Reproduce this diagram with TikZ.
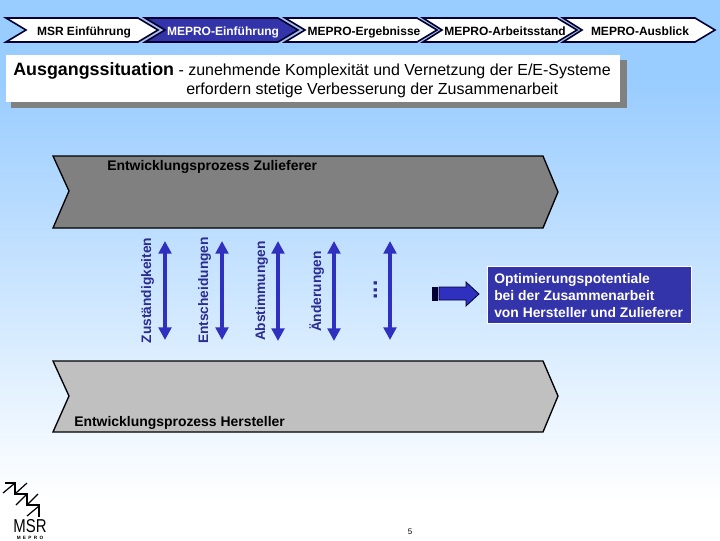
\documentclass[tikz,border=0pt]{standalone}
\usepackage{fontspec}
\setmainfont{Liberation Sans}
\usetikzlibrary{arrows.meta}

\definecolor{himmel}{RGB}{153,204,255}
\definecolor{tiefblau}{RGB}{51,51,170}
\definecolor{pfeilblau}{RGB}{48,48,192}
\definecolor{randblau}{RGB}{0,0,51}
\definecolor{spalt}{RGB}{170,190,228}
\definecolor{dunkelgrau}{RGB}{128,128,128}
\definecolor{hellgrau}{RGB}{192,192,192}

\tikzset{
  reiter/.style={draw=randblau,line width=1.2pt,miter limit=10,fill=white},
  reiteraktiv/.style={reiter,fill=tiefblau},
  spaltstreifen/.style={fill=spalt},
  prozess/.style={draw=black,line width=1pt},
  reitertext/.style={anchor=base,inner sep=0.75pt,font=\fontsize{9}{11}\selectfont\bfseries},
  prozesstext/.style={anchor=base west,inner sep=0.75pt,font=\fontsize{10.45}{12}\selectfont\bfseries},
  kantentext/.style={anchor=base,inner sep=0.75pt,rotate=90,text=tiefblau!85!black,font=\fontsize{10.3}{12}\selectfont\bfseries},
  titeltext/.style={anchor=base west,inner sep=0.75pt,font=\fontsize{12}{14}\selectfont},
  doppelpfeil/.style={{Triangle[length=9.5pt,width=9.5pt]}-{Triangle[length=9.5pt,width=9.5pt]},line width=2.6pt,pfeilblau},
  logolinie/.style={draw=black,line width=0.9pt},
}

\begin{document}
\begin{tikzpicture}[x=0.75pt,y=0.75pt,yscale=-1,xscale=1]
\useasboundingbox (0,0) rectangle (720,540);

%Background
\fill [himmel] (0,0) rectangle (720,81);
\shade [top color=himmel,bottom color=white] (0,80) rectangle (720,500);
\fill [white] (0,499) rectangle (720,540);

%Gaps between tabs
\fill [spaltstreifen] (138,18) -- (145,18) -- (165,30) -- (145,42) -- (138,42) -- (158,30) -- cycle ;
\fill [spaltstreifen] (278,18) -- (285,18) -- (305,30) -- (285,42) -- (278,42) -- (298,30) -- cycle ;
\fill [spaltstreifen] (417,18) -- (423,18) -- (442,30) -- (423,42) -- (417,42) -- (437,30) -- cycle ;
\fill [spaltstreifen] (557,18) -- (563,18) -- (582,30) -- (563,42) -- (557,42) -- (577,30) -- cycle ;

%Tabs
\draw [reiter] (6,18) -- (138,18) -- (158,30) -- (138,42) -- (6,42) -- (26,30) -- cycle ;
\draw [reiteraktiv] (145,18) -- (278,18) -- (298,30) -- (278,42) -- (145,42) -- (165,30) -- cycle ;
\draw [reiter] (285,18) -- (417,18) -- (437,30) -- (417,42) -- (285,42) -- (305,30) -- cycle ;
\draw [reiter] (423,18) -- (557,18) -- (577,30) -- (557,42) -- (423,42) -- (442,30) -- cycle ;
\draw [reiter] (563,18) -- (695,18) -- (715,30) -- (695,42) -- (563,42) -- (582,30) -- cycle ;

%Title box
\fill [dunkelgrau] (11,60) rectangle (627,108);
\fill [white] (6,55) rectangle (620,102);

%Process shapes
\draw [prozess,fill=dunkelgrau] (53,156) -- (543,156) -- (558,192) -- (543,228) -- (53,228) -- (69,191) -- cycle ;
\draw [prozess,fill=hellgrau] (53,361) -- (543,361) -- (558,396) -- (543,432) -- (53,432) -- (69,396) -- cycle ;

%Double arrows
\coordinate (zustaendigO) at (165,241);
\coordinate (zustaendigU) at (165,340);
\coordinate (entscheidO) at (222,241);
\coordinate (entscheidU) at (222,340);
\coordinate (abstimmO) at (278,241);
\coordinate (abstimmU) at (278,341);
\coordinate (aenderO) at (334,241);
\coordinate (aenderU) at (334,341);
\coordinate (weitereO) at (390,241);
\coordinate (weitereU) at (390,340);
\draw [doppelpfeil] (zustaendigO) -- (zustaendigU) ;
\draw [doppelpfeil] (entscheidO) -- (entscheidU) ;
\draw [doppelpfeil] (abstimmO) -- (abstimmU) ;
\draw [doppelpfeil] (aenderO) -- (aenderU) ;
\draw [doppelpfeil] (weitereO) -- (weitereU) ;

%Block arrow
\draw [draw=randblau,line width=0.6pt,fill=randblau] (432,287) rectangle (437,300) ;
\draw [draw=randblau,line width=0.6pt,fill=pfeilblau] (439,287) -- (466,287) -- (466,282) -- (479,294) -- (466,306) -- (466,300) -- (439,300) -- cycle ;

%Result box
\draw [draw=white,line width=0.5pt,fill=tiefblau] (487,266) rectangle (691,323) ;

%Logo
\draw [logolinie] (5,483) -- (15,483) -- (15,494) -- (27,494) -- (27,505) -- (39,505) -- (39,517) ;
\draw [logolinie] (3,493) -- (15,483) ;
\draw [logolinie] (16,493) -- (27,483) ;
\draw [logolinie] (16,505) -- (27,494) ;
\draw [logolinie] (27,505) -- (38,494) ;
\draw [logolinie] (27,516) -- (39,506) ;

% Text Node
\draw (84,35) node [reitertext] (msr) {MSR Einführung};
% Text Node
\draw (223,35) node [reitertext,text=white] (einfuehrung) {MEPRO-Einführung};
% Text Node
\draw (364,35) node [reitertext] (ergebnisse) {MEPRO-Ergebnisse};
% Text Node
\draw (505,35) node [reitertext] (arbeitsstand) {MEPRO-Arbeitsstand};
% Text Node
\draw (640,35) node [reitertext] (ausblick) {MEPRO-Ausblick};
% Text Node
\draw (12,75) node [titeltext] (titel) {{\fontsize{13.4}{14}\selectfont\bfseries Ausgangssituation} - zunehmende Komplexität und Vernetzung der E/E-Systeme};
% Text Node
\draw (185,94) node [titeltext] (titelzwei) {erfordern stetige Verbesserung der Zusammenarbeit};
% Text Node
\draw (106,170) node [prozesstext] (zulieferer) {Entwicklungsprozess Zulieferer};
% Text Node
\draw (73,426) node [prozesstext] (hersteller) {Entwicklungsprozess Hersteller};
% Text Node
\draw (151,290.5) node [kantentext] (zustaendig) {Zuständigkeiten};
% Text Node
\draw (208,290.5) node [kantentext] (entscheid) {Entscheidungen};
% Text Node
\draw (265,291) node [kantentext] (abstimm) {Abstimmungen};
% Text Node
\draw (321,291.5) node [kantentext] (aender) {Änderungen};
% Text Node
\draw (377,290) node [kantentext,font=\fontsize{17}{18}\selectfont\bfseries] (weitere) {...};
% Text Node
\draw (493,317) node [anchor=base west,inner sep=0.75pt,text=white,font=\fontsize{10.4}{12.75}\selectfont\bfseries,align=left] (optimierung) {Optimierungspotentiale\\bei der Zusammenarbeit\\von Hersteller und Zulieferer};
% Text Node
\draw (410,534) node [anchor=base,inner sep=0.75pt,font=\fontsize{6}{7}\selectfont] (seite) {5};
% Text Node
\draw (30,532) node [anchor=base,inner sep=0pt,xscale=0.8,font=\fontsize{14}{14}\selectfont] (logomsr) {MSR};
% Text Node
\draw (30,539) node [anchor=base,inner sep=0pt,font=\fontsize{3.5}{3.5}\selectfont\bfseries] (logomepro) {M\enspace E\enspace P\enspace R\enspace O};
\end{tikzpicture}
\end{document}
